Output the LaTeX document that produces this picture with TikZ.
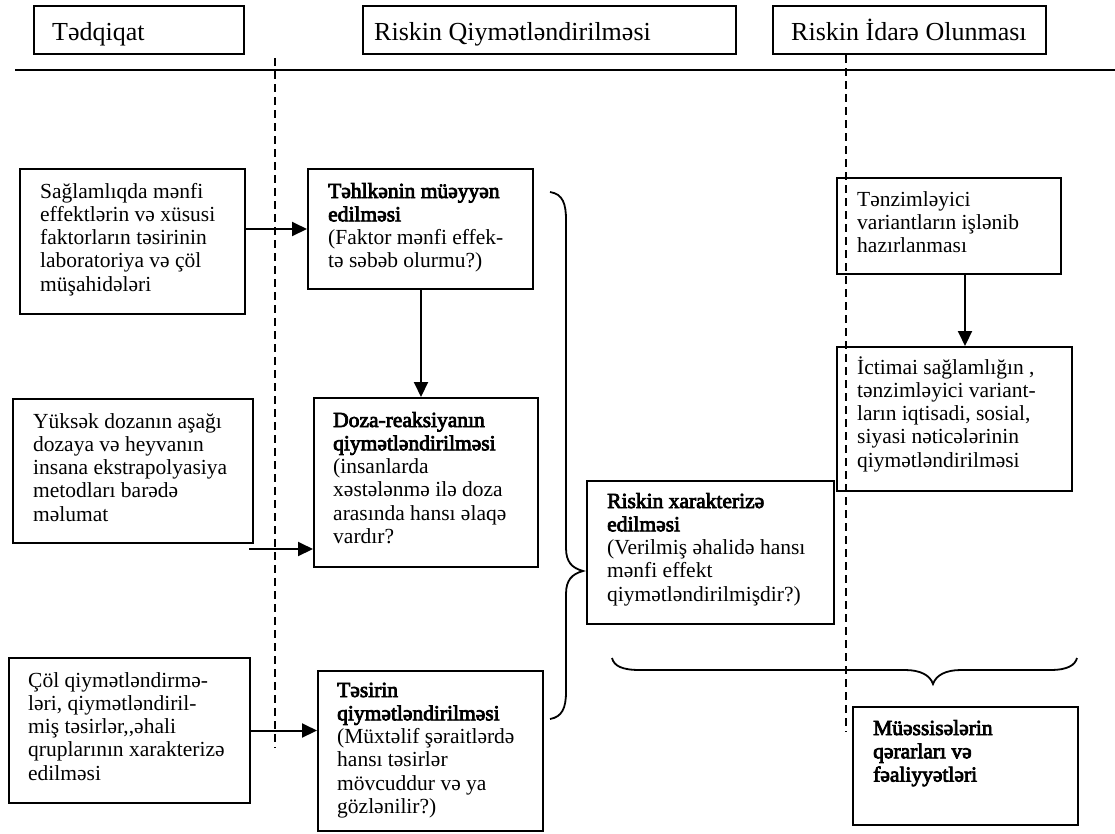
\documentclass[tikz,border=0pt]{standalone}
\usepackage{fontspec}
\setmainfont{Liberation Serif}[BoldFont=Liberation Serif, BoldFeatures={FakeBold=3.5}]
\usetikzlibrary{arrows.meta}

\newcommand\bodyfont{\fontsize{21.5}{23.3}\selectfont}
\newcommand\headfont{\fontsize{26}{30}\selectfont}
\newcommand\txtblock[1]{\parbox[t]{400pt}{\raggedright #1}}

\tikzset{
  panel/.style={draw, line width=2pt, inner sep=0pt, anchor=north west},
  size/.style 2 args={minimum width=#1pt, minimum height=#2pt},
  celltext/.style={anchor=base west, inner sep=0pt, font=\bodyfont},
  headtext/.style={anchor=base west, inner sep=0pt, font=\headfont},
  flow/.style={line width=2pt, -{Triangle[length=15pt,width=14pt]}},
  lane/.style={line width=1.6pt, dash pattern=on 8pt off 5pt},
  bracket/.style={line width=1.8pt},
  rule/.style={line width=2pt},
}

\begin{document}
\begin{tikzpicture}[x=1pt,y=-1pt]
\useasboundingbox (0,0) rectangle (1115,833);

% column headings
\node[panel, size={210}{48}] (h1) at (33,5) {};
\node[headtext] (h1t) at (52,40) {Tədqiqat};
\node[panel, size={373}{48}] (h2) at (362,5) {};
\node[headtext] (h2t) at (374,40) {Riskin Qiymətləndirilməsi};
\node[panel, size={273}{48}] (h3) at (772,5) {};
\node[headtext] (h3t) at (791,40) {Riskin İdarə Olunması};

% rule under the headings and the dashed lane separators
\coordinate (ruleL) at (15,70);
\coordinate (ruleR) at (1115,70);
\draw[rule] (ruleL) -- (ruleR);
\coordinate (lane1top) at (275,58);
\coordinate (lane1bot) at (275,748);
\coordinate (lane2top) at (846,55);
\coordinate (lane2bot) at (846,732);
\draw[lane] (lane1top) -- (lane1bot);
\draw[lane] (lane2top) -- (lane2bot);

% research column
\node[panel, size={225}{145}] (a1) at (19,168) {};
\node[celltext] (a1t) at (40,198) {\txtblock{Sağlamlıqda mənfi\\ effektlərin və xüsusi\\ faktorların təsirinin\\ laboratoriya və çöl\\ müşahidələri}};

\node[panel, size={240}{144}] (a2) at (12,398) {};
\node[celltext] (a2t) at (33,428) {\txtblock{Yüksək dozanın aşağı\\ dozaya və heyvanın\\ insana ekstrapolyasiya\\ metodları barədə\\ məlumat}};

\node[panel, size={241}{145}] (a3) at (8,657) {};
\node[celltext] (a3t) at (28,687) {\txtblock{Çöl qiymətləndirmə-\\ ləri, qiymətləndiril-\\ miş təsirlər,{},əhali\\ qruplarının xarakterizə\\ edilməsi}};

% risk assessment column
\node[panel, size={225}{120}] (t1) at (307,168) {};
\node[celltext] (t1t) at (328,198) {\txtblock{{\bfseries Təhlkənin müəyyən\\ edilməsi}\\ (Faktor mənfi effek-\\ tə səbəb olurmu?)}};

\node[panel, size={224}{169}] (d) at (313,397) {};
\node[celltext] (dt) at (333,427) {\txtblock{{\bfseries Doza-reaksiyanın\\ qiymətləndirilməsi}\\ (insanlarda\\ xəstələnmə ilə doza\\ arasında hansı əlaqə\\ vardır?}};

\node[panel, size={225}{160}] (t3) at (317,670) {};
\node[celltext] (t3t) at (337,697) {\txtblock{{\bfseries Təsirin\\ qiymətləndirilməsi}\\ (Müxtəlif şəraitlərdə\\ hansı təsirlər\\ mövcuddur və ya\\ gözlənilir?)}};

\node[panel, size={247}{143}] (r) at (586,480) {};
\node[celltext] (rt) at (607,508) {\txtblock{{\bfseries Riskin xarakterizə\\ edilməsi}\\ (Verilmiş əhalidə hansı\\ mənfi effekt\\ qiymətləndirilmişdir?)}};

% risk management column
\node[panel, size={224}{96}] (m1) at (836,177) {};
\node[celltext] (m1t) at (857,206) {\txtblock{Tənzimləyici\\ variantların işlənib\\ hazırlanması}};

\node[panel, size={235}{144}] (m2) at (836,346) {};
\node[celltext] (m2t) at (857,374) {\txtblock{İctimai sağlamlığın ,\\ tənzimləyici variant-\\ ların iqtisadi, sosial,\\ siyasi nəticələrinin\\ qiymətləndirilməsi}};

\node[panel, size={225}{118}] (f) at (852,706) {};
\node[celltext] (ft) at (873,735) {\txtblock{\bfseries Müəssisələrin\\ qərarları və\\ fəaliyyətləri}};

% arrows
\draw[flow] (a1.east |- t1.west) -- (t1.west);
\coordinate (a2out) at (249,549);
\draw[flow] (a2out) -- (a2out -| d.west);
\draw[flow] (a3.east) -- (a3.east -| t3.west);
\draw[flow] ([xshift=0.5pt]t1.south) -- ([xshift=0.5pt]t1.south |- d.north);
\draw[flow] ([xshift=16pt]m1.south) -- ([xshift=16pt]m1.south |- m2.north);

% brace gathering the three assessment steps
\coordinate (vbTop) at (550,192);
\coordinate (vbTip) at (583,571);
\coordinate (vbBot) at (550,719);
\draw[bracket] (vbTop) .. controls (563,194) and (566,204) .. (566,220)
  -- (566,548) .. controls (566,562) and (572,568) .. (vbTip)
  .. controls (572,574) and (566,580) .. (566,594)
  -- (566,692) .. controls (566,708) and (562,717) .. (vbBot);

% brace over the decisions box
\coordinate (hbL) at (612,658);
\coordinate (hbTip) at (933,684);
\coordinate (hbR) at (1077,658);
\draw[bracket] (hbL) .. controls (614,666) and (622,670) .. (640,670)
  -- (905,670) .. controls (920,670) and (930,675) .. (hbTip)
  .. controls (936,675) and (946,670) .. (961,670)
  -- (1050,670) .. controls (1068,670) and (1075,665) .. (hbR);
\end{tikzpicture}
\end{document}
